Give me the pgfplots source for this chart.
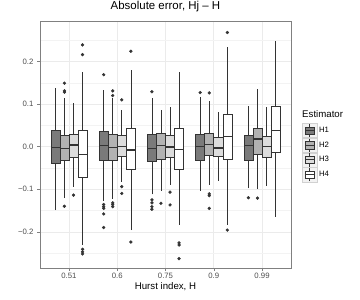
\documentclass[border=0pt]{standalone}
\usepackage{fontspec}
\setmainfont{Liberation Sans}
\usepackage{pgfplots}
\pgfplotsset{compat=1.18}
\definecolor{hA}{HTML}{7A7A7A}
\definecolor{hB}{HTML}{B2B2B2}
\definecolor{hC}{HTML}{DCDCDC}
\definecolor{hD}{HTML}{FFFFFF}
\definecolor{ln}{HTML}{333333}
\definecolor{tk}{HTML}{4D4D4D}
\definecolor{gridc}{HTML}{EBEBEB}
% #1 centre, #2 left, #3 right, #4 fill, #5 lower whisker, #6 lower quartile, #7 median, #8 upper quartile, #9 upper whisker
\newcommand{\myBox}[9]{%
\addplot[draw=ln, line width=0.55bp, forget plot] coordinates {(#1,#5) (#1,#6)};
\addplot[draw=ln, line width=0.55bp, forget plot] coordinates {(#1,#8) (#1,#9)};
\addplot[draw=ln, fill=#4, line width=0.55bp, forget plot] coordinates {(#2,#6) (#3,#6) (#3,#8) (#2,#8)} -- cycle;
\addplot[draw=ln, line width=1.2bp, forget plot] coordinates {(#2,#7) (#3,#7)};}
\newcommand{\keyimg}[1]{%
\addlegendimage{legend image code/.code={
 \filldraw[fill=black!5, draw=black!18, line width=0.4bp] (0bp,-7.2bp) rectangle (14.4bp,7.2bp);
 \draw[ln, line width=0.5bp] (7.2bp,-6.6bp) -- (7.2bp,6.6bp);
 \filldraw[fill=#1, draw=ln, line width=0.5bp] (2.4bp,-3.6bp) rectangle (12bp,3.6bp);
 \draw[ln, line width=1bp] (2.4bp,0bp) -- (12bp,0bp);}}}
\begin{document}
\begin{tikzpicture}
\begin{axis}[
 scale only axis, width=251bp, height=247bp,
 xmin=0.4, xmax=5.6, ymin=-0.285, ymax=0.295,
 xtick={1,2,3,4,5}, xticklabels={0.51,0.6,0.75,0.9,0.99},
 ytick={-0.2,-0.1,0,0.1,0.2}, yticklabels={−0.2,−0.1,0.0,0.1,0.2},
 minor ytick={-0.25,-0.15,-0.05,0.05,0.15,0.25},
 grid=both,
 major grid style={draw=gridc, line width=0.6bp},
 minor grid style={draw=gridc!60, line width=0.35bp},
 axis line style={draw=black!50, line width=0.5bp},
 tick style={draw=black!50, line width=0.5bp},
 tick align=outside, major tick length=3bp, minor tick length=0bp,
 tick pos=left,
 ticklabel style={font=\fontsize{7.8}{9}\selectfont, text=tk},
 xticklabel style={yshift=1.7bp},
 title={Absolute error, Hj – H},
 title style={at={(0.5,1)}, anchor=base, yshift=6bp, inner sep=0pt, font=\fontsize{11.5}{13}\selectfont},
 xlabel={Hurst index, H},
 xlabel style={at={(axis description cs:0.5,0)}, anchor=base, yshift=-21bp, inner sep=0pt, font=\fontsize{9.7}{11}\selectfont},
 legend style={at={(1.044,0.588)}, anchor=north west, draw=none, fill=none,
   font=\fontsize{7.8}{9}\selectfont, inner sep=0pt, row sep=0pt, column sep=2bp,
   nodes={inner sep=0pt}},
 legend cell align=left,
 clip=false,
]
% group 1 (0.51)
\myBox{0.71875}{0.625}{0.8125}{hA}{-0.149}{-0.039}{-0.002}{0.039}{0.137}
\myBox{0.90625}{0.8125}{1.0}{hB}{-0.121}{-0.033}{-0.005}{0.026}{0.114}
\myBox{1.09375}{1.0}{1.1875}{hC}{-0.094}{-0.025}{0.004}{0.028}{0.102}
\myBox{1.28125}{1.1875}{1.375}{hD}{-0.231}{-0.072}{-0.018}{0.039}{0.175}
% group 2 (0.6)
\myBox{1.71875}{1.625}{1.8125}{hA}{-0.127}{-0.033}{0.002}{0.036}{0.133}
\myBox{1.90625}{1.8125}{2.0}{hB}{-0.122}{-0.033}{-0.002}{0.028}{0.114}
\myBox{2.09375}{2.0}{2.1875}{hC}{-0.082}{-0.022}{0.001}{0.026}{0.086}
\myBox{2.28125}{2.1875}{2.375}{hD}{-0.196}{-0.053}{-0.008}{0.042}{0.180}
% group 3 (0.75)
\myBox{2.71875}{2.625}{2.8125}{hA}{-0.112}{-0.035}{-0.004}{0.028}{0.114}
\myBox{2.90625}{2.8125}{3.0}{hB}{-0.104}{-0.030}{0.003}{0.031}{0.086}
\myBox{3.09375}{3.0}{3.1875}{hC}{-0.090}{-0.025}{-0.001}{0.027}{0.094}
\myBox{3.28125}{3.1875}{3.375}{hD}{-0.184}{-0.052}{-0.006}{0.043}{0.176}
% group 4 (0.9)
\myBox{3.71875}{3.625}{3.8125}{hA}{-0.104}{-0.033}{0.000}{0.029}{0.116}
\myBox{3.90625}{3.8125}{4.0}{hB}{-0.090}{-0.021}{0.005}{0.032}{0.106}
\myBox{4.09375}{4.0}{4.1875}{hC}{-0.080}{-0.023}{-0.003}{0.021}{0.081}
\myBox{4.28125}{4.1875}{4.375}{hD}{-0.184}{-0.029}{0.024}{0.077}{0.235}
% group 5 (0.99)
\myBox{4.71875}{4.625}{4.8125}{hA}{-0.098}{-0.031}{0.002}{0.027}{0.096}
\myBox{4.90625}{4.8125}{5.0}{hB}{-0.100}{-0.018}{0.018}{0.043}{0.136}
\myBox{5.09375}{5.0}{5.1875}{hC}{-0.092}{-0.025}{0.000}{0.024}{0.093}
\myBox{5.28125}{5.1875}{5.375}{hD}{-0.165}{-0.013}{0.037}{0.094}{0.249}
% outliers
\addplot[only marks, mark=*, mark size=1.45bp, color=ln, forget plot] coordinates {
 (0.90625,0.149) (0.90625,0.131) (0.90625,0.128) (0.90625,-0.140)
 (1.09375,-0.114)
 (1.28125,0.239) (1.28125,0.216) (1.28125,-0.241) (1.28125,-0.247) (1.28125,-0.252)
 (1.71875,0.169) (1.71875,-0.136) (1.71875,-0.141) (1.71875,-0.145) (1.71875,-0.158) (1.71875,-0.190)
 (1.90625,0.131) (1.90625,0.120) (1.90625,-0.132) (1.90625,-0.136) (1.90625,-0.141)
 (2.09375,0.110) (2.09375,-0.094) (2.09375,-0.110)
 (2.28125,0.224) (2.28125,-0.224)
 (2.71875,0.129) (2.71875,-0.125) (2.71875,-0.132) (2.71875,-0.141) (2.71875,-0.147)
 (2.90625,-0.133)
 (3.09375,-0.107) (3.09375,-0.137)
 (3.28125,-0.226) (3.28125,-0.231) (3.28125,-0.263)
 (3.71875,0.127)
 (3.90625,0.126) (3.90625,-0.111) (3.90625,-0.115) (3.90625,-0.145)
 (4.28125,0.268) (4.28125,-0.196)
 (4.71875,-0.120)
 (4.90625,-0.121)
};
\keyimg{hA}\addlegendentry{H1}
\keyimg{hB}\addlegendentry{H2}
\keyimg{hC}\addlegendentry{H3}
\keyimg{hD}\addlegendentry{H4}
\node[anchor=base west, inner sep=0pt, font=\fontsize{9.7}{11}\selectfont] at (rel axis cs:1.044,0.588) [yshift=5.7bp] {Estimator};
\end{axis}
\pgfresetboundingbox
\path (-40bp,-32bp) rectangle (320bp,268bp);
\end{tikzpicture}
\end{document}
